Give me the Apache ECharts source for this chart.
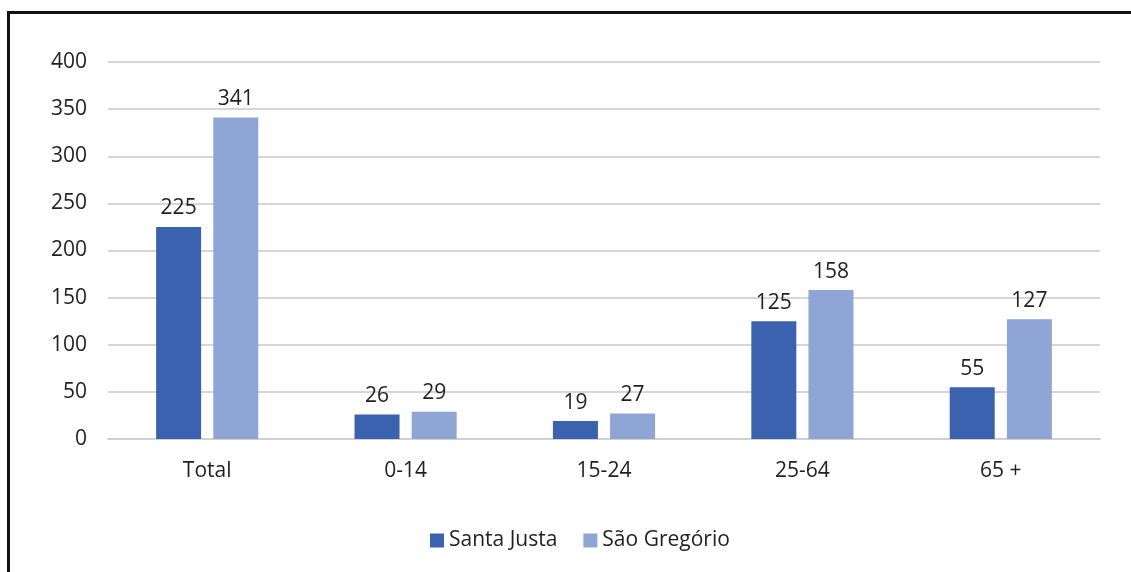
<!DOCTYPE html>
<html>
<head>
<meta charset="utf-8">
<script src="https://cdn.jsdelivr.net/npm/echarts@6/dist/echarts.min.js"></script>
<style>
  html, body { margin: 0; padding: 0; background: #fff; }
  #wrap { position: relative; width: 1131px; height: 572px; overflow: hidden; }
  #chart { position: absolute; left: 0; top: 0; width: 1131px; height: 572px; }
  #frame { position: absolute; left: 7px; top: 11px; width: 1140px; height: 580px;
           border-left: 3px solid #111; border-top: 3px solid #111; pointer-events: none; }
</style>
</head>
<body>
<div id="wrap">
  <div id="chart"></div>
  <div id="frame"></div>
</div>
<script>
// Population by age group, two parishes
const categories = ['Total', '0-14', '15-24', '25-64', '65 +'];
const santaJusta = [225, 26, 19, 125, 55];
const saoGregorio = [341, 29, 27, 158, 127];
const seriesNames = ['Santa Justa', 'São Gregório'];

const FONT = '"Open Sans", "Noto Sans", sans-serif';
const TEXT = '#1f1f1f';

const chart = echarts.init(document.getElementById('chart'));
chart.setOption({
  animation: false,
  textStyle: { fontFamily: FONT },
  grid: { left: 108, right: 31, top: 62, bottom: 133, containLabel: false },
  legend: {
    bottom: 16,
    left: 425,
    itemWidth: 14,
    itemHeight: 14,
    itemGap: 26,
    icon: 'rect',
    textStyle: { fontFamily: FONT, fontSize: 21, color: TEXT },
    data: seriesNames
  },
  xAxis: {
    type: 'category',
    data: categories,
    axisLine: { lineStyle: { color: '#d0d0d0', width: 2 } },
    axisTick: { show: false },
    axisLabel: { fontFamily: FONT, fontSize: 21, color: TEXT, margin: 22 }
  },
  yAxis: {
    type: 'value',
    min: 0,
    max: 400,
    interval: 50,
    axisLine: { show: false },
    axisTick: { show: false },
    axisLabel: { fontFamily: FONT, fontSize: 21, color: TEXT, margin: 21 },
    splitLine: { lineStyle: { color: '#d6d6d6', width: 2 } }
  },
  series: [
    {
      name: seriesNames[0],
      type: 'bar',
      data: santaJusta,
      barWidth: 45,
      barGap: '27%',
      itemStyle: { color: '#3A62AE' },
      label: { show: true, position: 'top', distance: 8, fontFamily: FONT, fontSize: 21, color: TEXT }
    },
    {
      name: seriesNames[1],
      type: 'bar',
      data: saoGregorio,
      barWidth: 45,
      barGap: '27%',
      itemStyle: { color: '#8FA5D6' },
      label: { show: true, position: 'top', distance: 8, fontFamily: FONT, fontSize: 21, color: TEXT }
    }
  ]
});
</script>
</body>
</html>
